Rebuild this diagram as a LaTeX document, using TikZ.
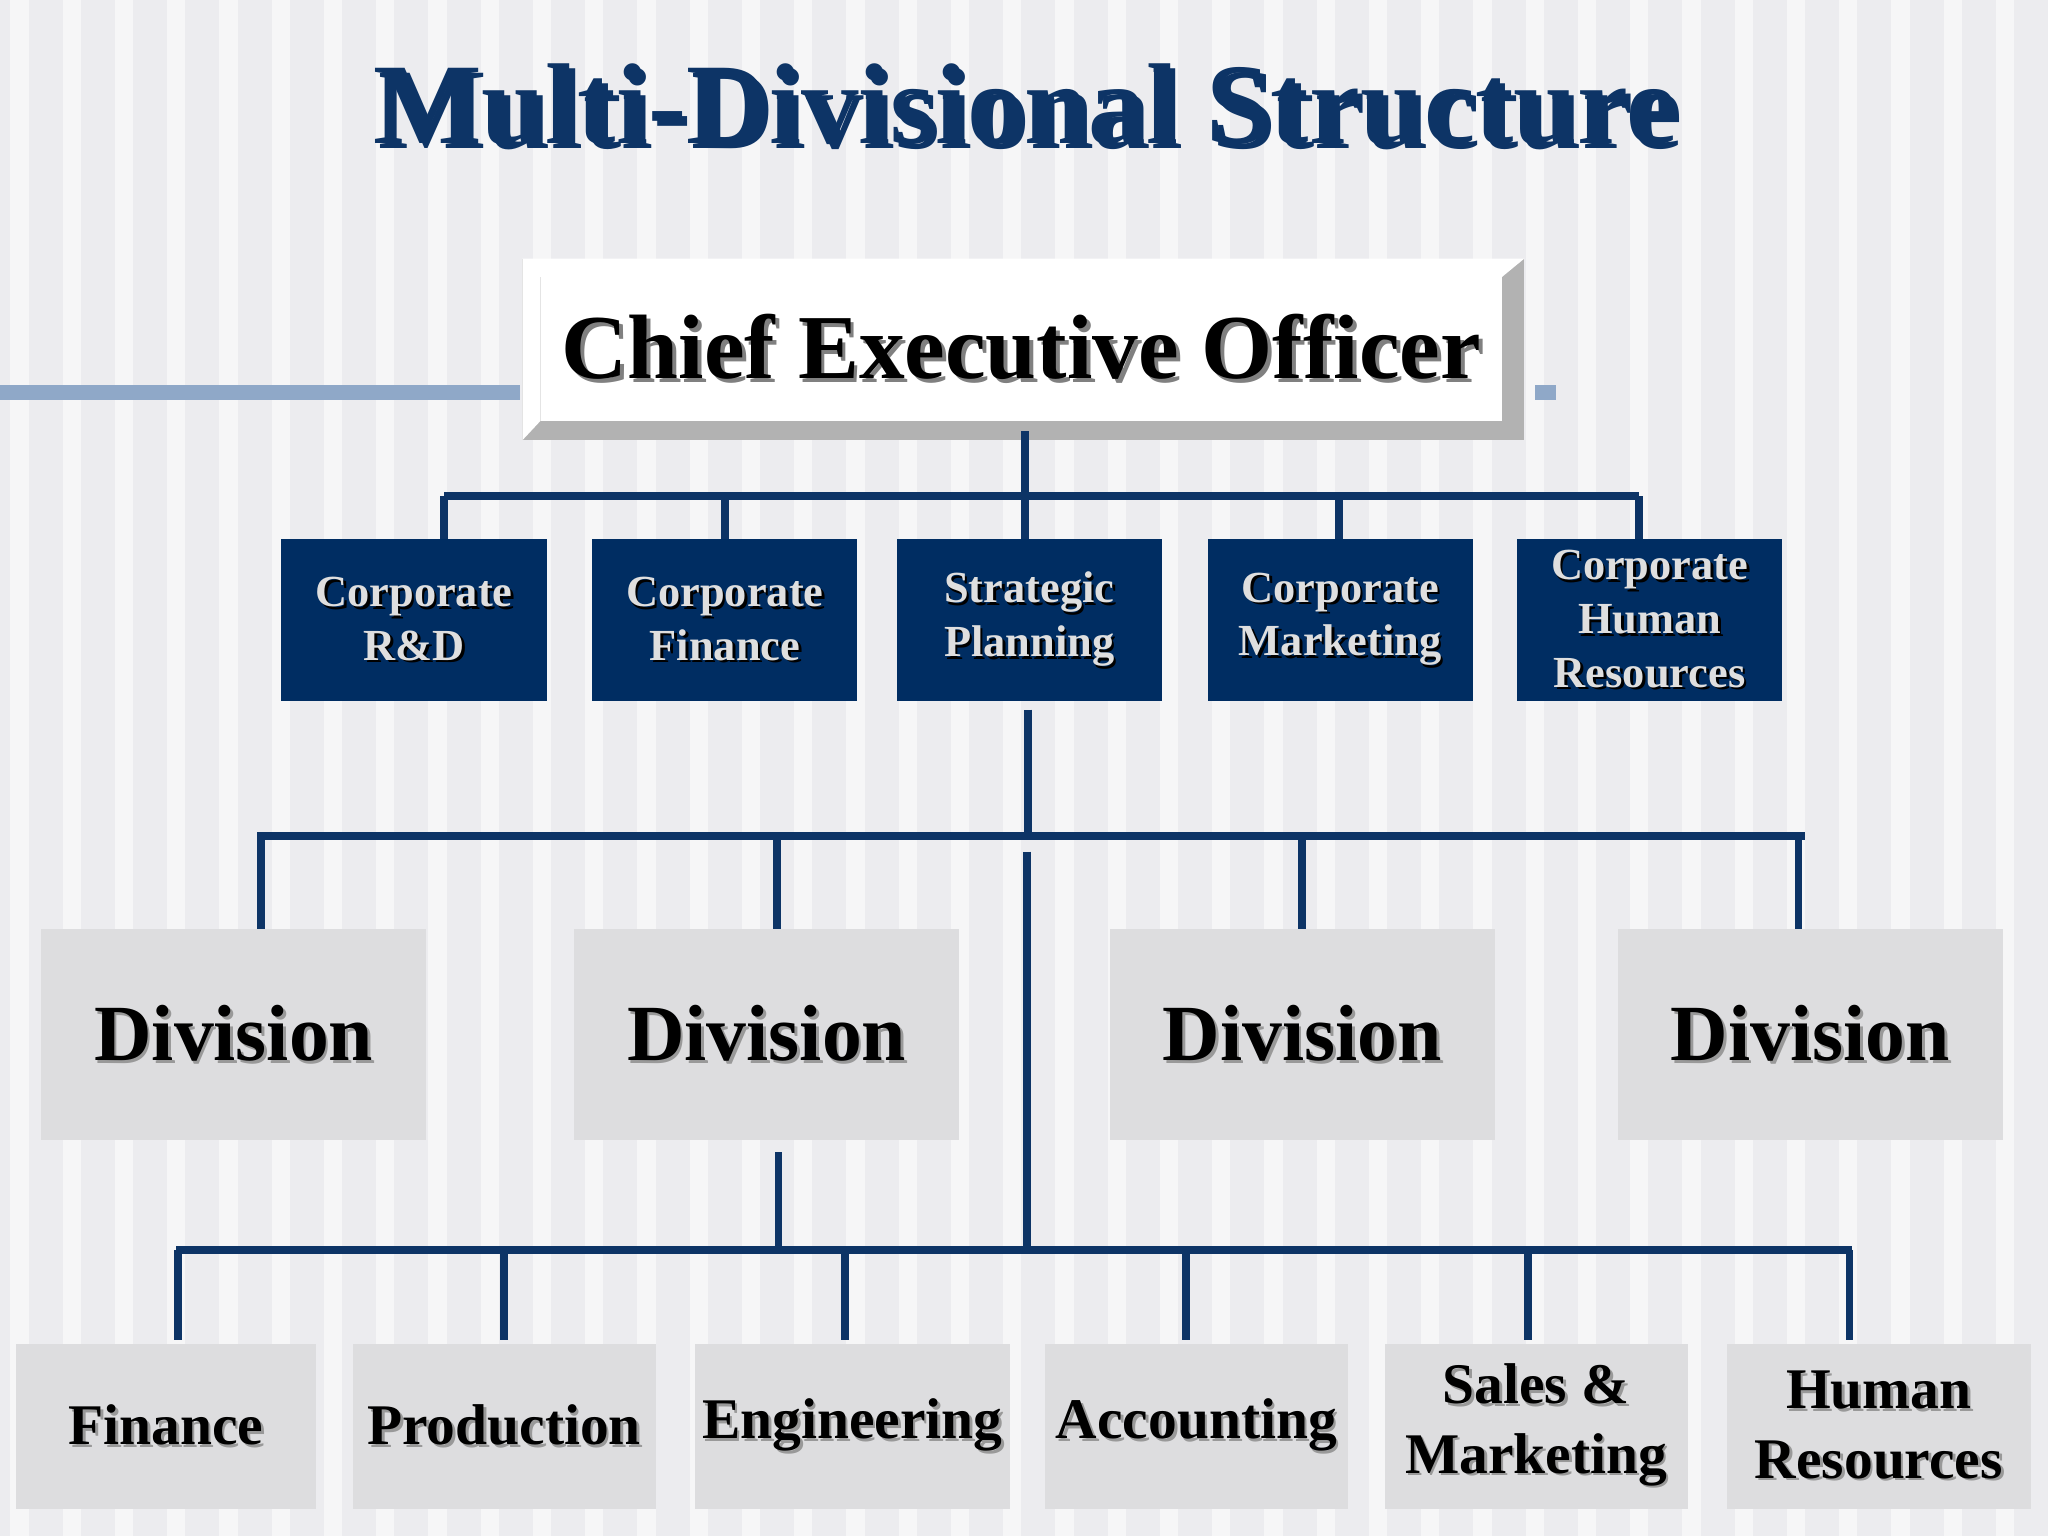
\documentclass[tikz,border=0pt]{standalone}
\usepackage{fontspec}
\setmainfont{Liberation Serif}
\definecolor{navy}{HTML}{0D3466}
\definecolor{boxblue}{HTML}{002D62}
\definecolor{divgray}{HTML}{DDDDDF}
\definecolor{bgc}{HTML}{ECECEF}
\definecolor{barblue}{HTML}{8FA8C8}
\newcommand\shd[3][2pt]{\rlap{\hspace{#1}\raisebox{-#1}{\color{#2}#3}}#3}
\usetikzlibrary{shadows}
\tikzset{
 ln/.style={navy,line width=6pt},
 bluebox/.style={fill=boxblue,minimum width=203pt,minimum height=124pt,inner sep=0pt,text=gray!25,font=\bfseries\fontsize{34}{41}\selectfont,align=center},
 divbox/.style={fill=divgray,minimum width=295pt,minimum height=161pt,inner sep=0pt,font=\bfseries\fontsize{61}{66}\selectfont},
 botbox/.style={fill=divgray,minimum height=126pt,inner sep=0pt,font=\bfseries\fontsize{44}{53}\selectfont,align=center},
}
\begin{document}
\begin{tikzpicture}[x=1pt,y=-1pt]
\fill[bgc] (0,0) rectangle (1568,1176);
\foreach \x in {0,40,...,1520}{\fill[white,opacity=.55] (\x+8,0) rectangle (\x+22,1176);}
\useasboundingbox (0,0) rectangle (1568,1176);
% title
\node (title) at (785,82) {\shd[4pt]{black}{\textcolor{navy}{\bfseries\fontsize{88}{96}\selectfont Multi-Divisional Structure}}};
% blue bar
\fill[barblue] (0,295) rectangle (398,306);
\fill[barblue] (1175,295) rectangle (1191,306);
% CEO
\fill[gray!60] (400,198) rectangle (1167,337);
\fill[white] (400,198) -- (1167,198) -- (1150,212) -- (414,212) -- (414,322) -- (400,337) -- cycle;
\node[fill=white,minimum width=736pt,minimum height=110pt,inner sep=0pt,font=\bfseries\fontsize{70}{76}\selectfont] (ceo) at (782,267) {\shd[3pt]{gray}{Chief Executive Officer}};
% level 1
\foreach \n/\x/\t in {rd/317/{\shd{black}{Corporate}\\\shd{black}{R\&D}},fin/555/{\shd{black}{Corporate}\\\shd{black}{Finance}},sp/788/{\shd{black}{Strategic}\\\shd{black}{Planning}},mk/1026/{\shd{black}{Corporate}\\\shd{black}{Marketing}},hr/1263/{\shd{black}{Corporate}\\\shd{black}{Human}\\\shd{black}{Resources}}}
  \node[bluebox] (\n) at (\x,475) {\t};
\coordinate (c1) at (785,380);
\draw[ln] (ceo.south) ++(3,8) |- (c1);
\draw[ln] (340,380) -- (1255,380);
\foreach \n/\x in {rd/340,fin/555,sp/785,mk/1025,hr/1255}
  \draw[ln] (\x,380) -- (\x,413);
% divisions
\foreach \n/\x in {d1/179,d2/587,d3/997,d4/1386}
  \node[divbox] (\n) at (\x,792) {\shd{gray!80}{Division}};
\draw[ln] (sp.south) ++(-1,6) -- (787,640);
\draw[ln] (197,640) -- (1382,640);
\foreach \x in {200,595,997,1377} \draw[ln] (\x,640) -- (\x,711);
\draw[ln] (786,652) -- (786,957);
\draw[ln] (596,882) -- (596,957);
% bottom
\draw[ln] (135,957) -- (1418,957);
\foreach \x in {136,386,647,908,1170,1416} \draw[ln] (\x,957) -- (\x,1026);
\foreach \n/\xa/\xb/\t in {f/12/242/{\shd{gray!80}{Finance}},p/270/502/{\shd{gray!80}{Production}},e/532/773/{\shd{gray!80}{Engineering}},a/800/1032/{\shd{gray!80}{Accounting}},s/1060/1292/{\shd{gray!80}{Sales \&}\\\shd{gray!80}{Marketing}},h/1322/1555/{\shd{gray!80}{Human}\\\shd{gray!80}{Resources}}}
  \node[botbox,minimum width={\xb-\xa}] (\n) at ({(\xa+\xb)/2},1092) {\t};
\end{tikzpicture}
\end{document}
